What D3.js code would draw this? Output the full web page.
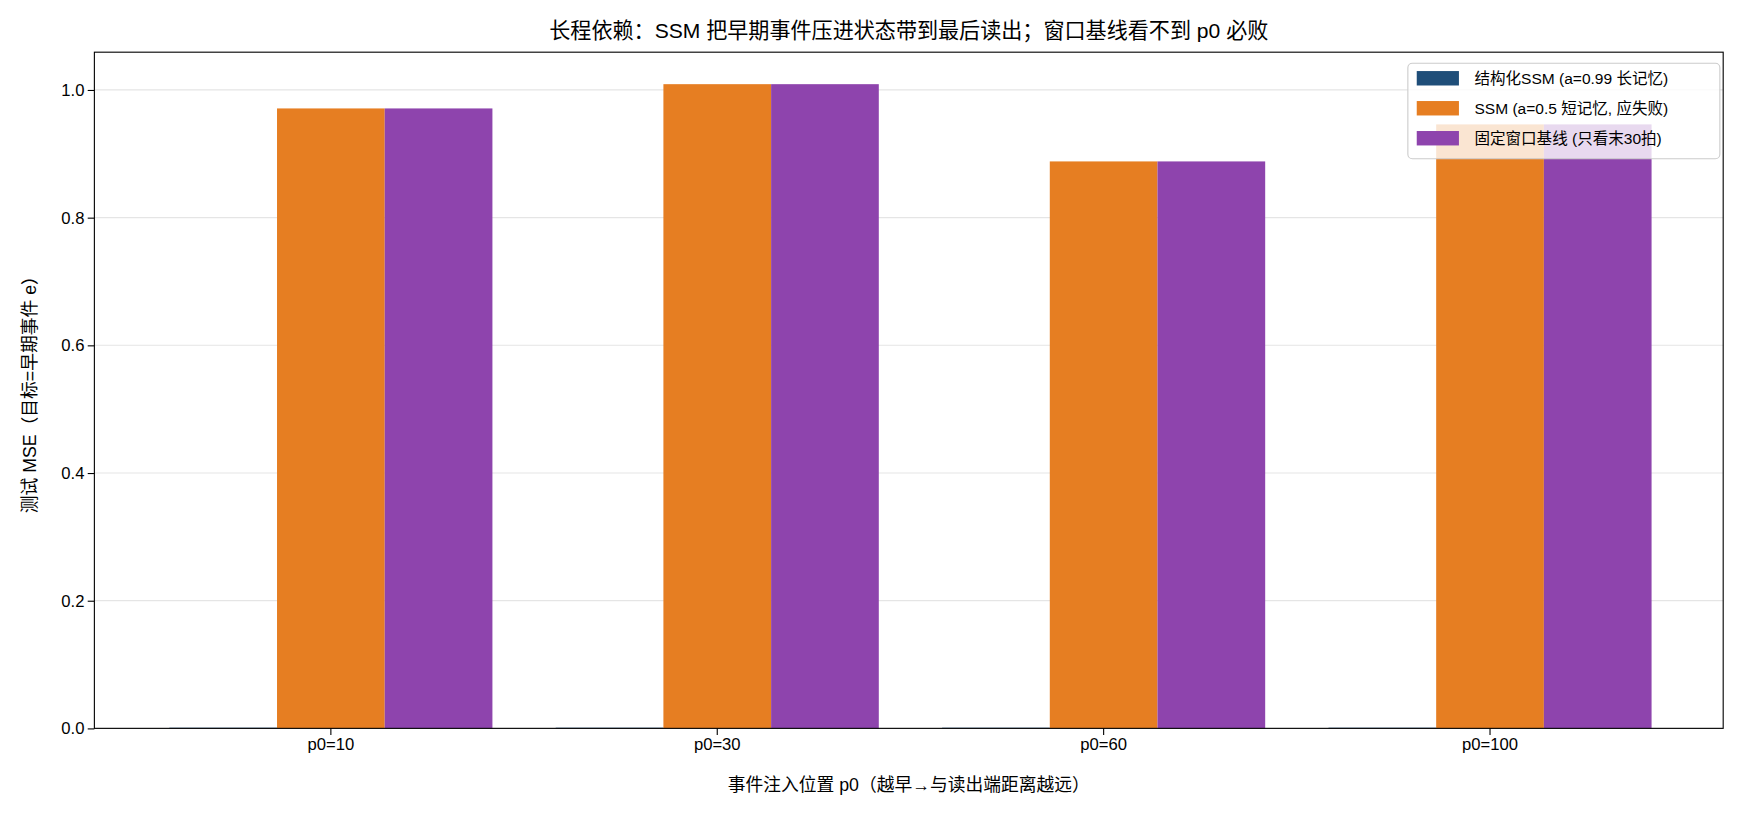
<!DOCTYPE html>
<html><head><meta charset="utf-8">
<script src="https://cdn.jsdelivr.net/npm/d3@7"></script>
<style>body{margin:0;background:#fff}text{font-family:"Liberation Sans","Noto Sans CJK SC",sans-serif}</style>
</head><body><svg id="c" width="1741" height="814"></svg>
<script>
const categories=["p0=10","p0=30","p0=60","p0=100"];
const seriesNames=["结构化SSM (a=0.99 长记忆)","SSM (a=0.5 短记忆, 应失败)","固定窗口基线 (只看末30拍)"];
const colors=["#1f4e79","#e67e22","#8e44ad"];
const ssmLong=[0.001,0.001,0.001,0.001];
const ssmShort=[0.971,1.009,0.888,0.946];
const windowBase=[0.971,1.009,0.888,0.946];
const yTicks=[0,0.2,0.4,0.6,0.8,1.0];
const series=[ssmLong,ssmShort,windowBase];
const root=d3.select("#c").append("g").attr("transform","scale(1.1103)");
const svg=root;
const L=85,R=1552,T=47,B=656;
const y=d3.scaleLinear().domain([0,1.0591]).range([B,T]);
const x0=d3.scaleBand().domain(categories).range([124,1516]).padding(0);
const x1=d3.scaleBand().domain([0,1,2]).range([0,291]);
const g=svg.append("g");
yTicks.forEach(t=>{g.append("line").attr("x1",L).attr("x2",R).attr("y1",y(t)).attr("y2",y(t)).attr("stroke","#e5e5e5").attr("stroke-width",1);});
categories.forEach((c,i)=>{series.forEach((s,j)=>{
 const cx=x0(c)+x0.bandwidth()/2-145.5;
 g.append("rect").attr("x",cx+x1(j)).attr("width",x1.bandwidth()).attr("y",y(s[i])).attr("height",B-y(s[i])).attr("fill",colors[j]);
});});
svg.append("g").attr("transform",`translate(${L},0)`).call(d3.axisLeft(y).tickValues(yTicks).tickFormat(d3.format(".1f")).tickSizeOuter(0))
 .call(a=>a.selectAll("text").attr("font-size",15).attr("fill","#000")).call(a=>a.select(".domain").remove());
svg.append("g").attr("transform",`translate(0,${B})`).call(d3.axisBottom(x0).tickSizeOuter(0))
 .call(a=>a.selectAll("text").attr("font-size",15).attr("fill","#000")).call(a=>a.select(".domain").remove());
svg.append("rect").attr("x",L).attr("y",T).attr("width",R-L).attr("height",B-T).attr("fill","none").attr("stroke","#000").attr("stroke-width",1);
svg.append("text").attr("x",(L+R)/2).attr("y",34).attr("text-anchor","middle").attr("font-size",19).text("长程依赖：SSM 把早期事件压进状态带到最后读出；窗口基线看不到 p0 必败");
svg.append("text").attr("x",(L+R)/2).attr("y",712).attr("text-anchor","middle").attr("font-size",16).text("事件注入位置 p0（越早→与读出端距离越远）");
svg.append("text").attr("transform",`translate(32,${(T+B)/2}) rotate(-90)`).attr("text-anchor","middle").attr("font-size",16).text("测试 MSE（目标=早期事件 e）");
const lg=svg.append("g").attr("transform","translate(1268,57)");
lg.append("rect").attr("width",281).attr("height",86).attr("rx",4).attr("fill","#fff").attr("fill-opacity",0.8).attr("stroke","#ccc");
seriesNames.forEach((n,i)=>{
 lg.append("rect").attr("x",8).attr("y",7+i*27).attr("width",38).attr("height",13).attr("fill",colors[i]);
 lg.append("text").attr("x",60).attr("y",19+i*27).attr("font-size",14).text(n);
});
</script></body></html>
